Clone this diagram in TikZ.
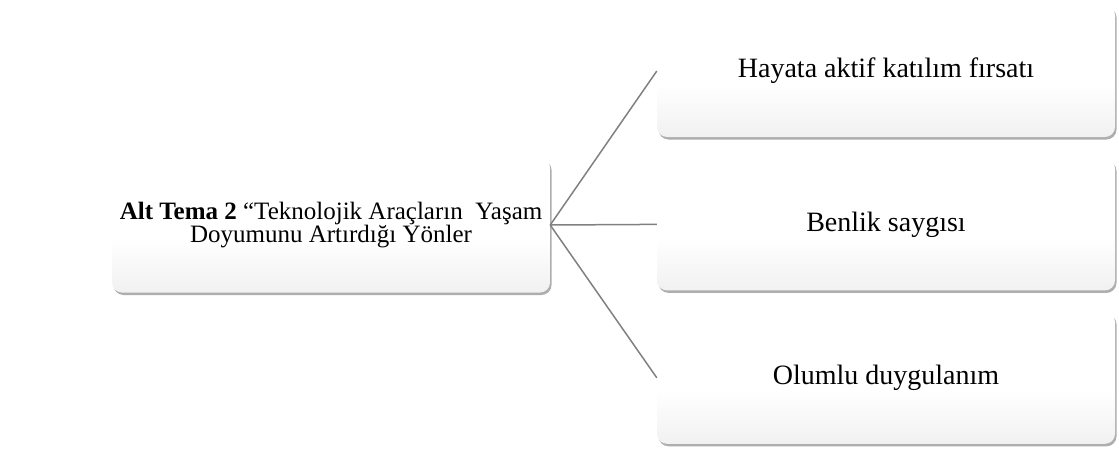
\documentclass[tikz,border=0pt]{standalone}
\usepackage{fontspec}
\setmainfont{Liberation Serif}
\usetikzlibrary{positioning, shadows}
\definecolor{linkGray}{RGB}{128, 128, 128}
\definecolor{boxBottom}{RGB}{226, 226, 226}
\pgfdeclareverticalshading{boxshade}{100bp}{color(0bp)=(boxBottom); color(12bp)=(boxBottom!80!white); color(45bp)=(white); color(100bp)=(white)}

\tikzset{
    themebox/.style={rounded corners=10pt, shading=boxshade, shading angle=0,
        align=center, inner sep=4pt,
        drop shadow={shadow xshift=1.5pt, shadow yshift=-2.5pt, opacity=.45, fill=black!70}},
    subbox/.style={themebox, minimum width=458pt, minimum height=132pt, font=\fontsize{28}{33}\selectfont},
    link/.style={draw=linkGray, line width=1.5pt}
}

\begin{document}
\begin{tikzpicture}[x=1pt, y=-1pt]
    \useasboundingbox (0,0) rectangle (1119,450);

    % main theme on the left
    \node[themebox, minimum width=438pt, minimum height=135pt, font=\fontsize{25}{23.5}\selectfont] (theme) at (331,225) {
        \textbf{Alt Tema 2} “Teknolojik Araçların\ \ Yaşam\\
        Doyumunu Artırdığı Yönler
    };

    % sub themes on the right
    \node[subbox] (active) at (886,71) {Hayata aktif katılım fırsatı};
    \node[subbox, below=21pt of active] (esteem) {Benlik saygısı};
    \node[subbox, below=21pt of esteem] (affect) {Olumlu duygulanım};

    \draw[link] (theme.east) -- (active.west);
    \draw[link] (theme.east) -- (esteem.west);
    \draw[link] (theme.east) -- (affect.west);
\end{tikzpicture}
\end{document}
